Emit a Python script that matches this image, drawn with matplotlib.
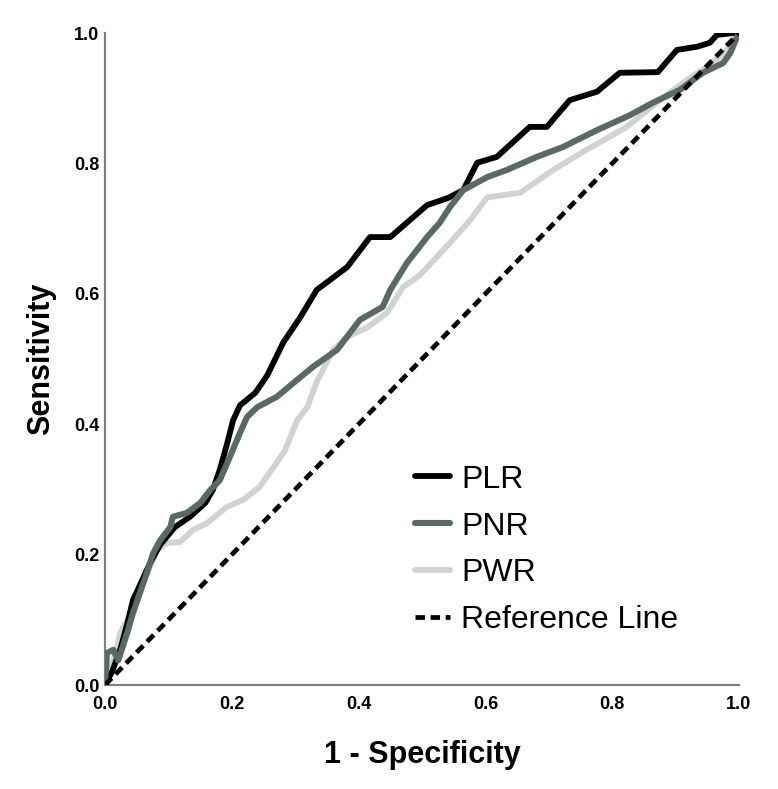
import matplotlib
matplotlib.use("Agg")
import matplotlib.pyplot as plt

# ---- data ----
plr_x = [0.0, 0.011, 0.024, 0.036, 0.044, 0.055, 0.071, 0.087, 0.110, 0.134, 0.158, 0.170,
         0.181, 0.192, 0.202, 0.213, 0.237, 0.256, 0.281, 0.308, 0.334, 0.382, 0.418, 0.450,
         0.508, 0.541, 0.565, 0.587, 0.618, 0.670, 0.697, 0.733, 0.776, 0.812, 0.872, 0.902,
         0.934, 0.954, 0.965, 0.991, 1.0]
plr_y = [0.0, 0.020, 0.054, 0.097, 0.130, 0.153, 0.187, 0.215, 0.242, 0.258, 0.279, 0.299,
         0.330, 0.368, 0.406, 0.429, 0.448, 0.475, 0.525, 0.564, 0.606, 0.641, 0.687, 0.687,
         0.736, 0.747, 0.759, 0.801, 0.810, 0.856, 0.856, 0.897, 0.910, 0.939, 0.940, 0.974,
         0.979, 0.985, 0.997, 1.0, 1.0]

pnr_x = [0.0, 0.002, 0.003, 0.013, 0.021, 0.035, 0.044, 0.055, 0.066, 0.076, 0.087, 0.103,
         0.107, 0.129, 0.150, 0.166, 0.181, 0.197, 0.213, 0.224, 0.240, 0.271, 0.303, 0.328,
         0.366, 0.402, 0.438, 0.450, 0.476, 0.508, 0.528, 0.544, 0.565, 0.603, 0.634, 0.681,
         0.722, 0.776, 0.828, 0.864, 0.907, 0.943, 0.975, 0.986, 0.997, 1.0]
pnr_y = [0.0, 0.031, 0.049, 0.054, 0.038, 0.080, 0.110, 0.141, 0.172, 0.202, 0.222, 0.242,
         0.258, 0.264, 0.279, 0.299, 0.314, 0.350, 0.387, 0.411, 0.426, 0.442, 0.468, 0.488,
         0.514, 0.560, 0.580, 0.606, 0.647, 0.687, 0.709, 0.733, 0.759, 0.779, 0.790, 0.810,
         0.825, 0.851, 0.874, 0.893, 0.913, 0.939, 0.954, 0.969, 0.994, 1.0]

pwr_x = [0.0, 0.005, 0.011, 0.019, 0.024, 0.035, 0.043, 0.050, 0.060, 0.071, 0.082, 0.098,
         0.118, 0.139, 0.161, 0.192, 0.218, 0.244, 0.268, 0.284, 0.303, 0.319, 0.334, 0.360,
         0.382, 0.413, 0.445, 0.470, 0.497, 0.544, 0.576, 0.603, 0.655, 0.707, 0.760, 0.823,
         0.875, 0.918, 0.950, 0.981, 1.0]
pwr_y = [0.0, 0.008, 0.031, 0.058, 0.080, 0.100, 0.120, 0.141, 0.156, 0.181, 0.207, 0.218,
         0.219, 0.238, 0.248, 0.273, 0.284, 0.304, 0.337, 0.360, 0.406, 0.426, 0.465, 0.514,
         0.534, 0.548, 0.571, 0.610, 0.629, 0.678, 0.713, 0.748, 0.755, 0.790, 0.821, 0.856,
         0.897, 0.928, 0.948, 0.974, 1.0]

ref_x = [0.0, 1.0]
ref_y = [0.0, 1.0]

series_labels = ["PLR", "PNR", "PWR", "Reference Line"]
tick_values = [0.0, 0.2, 0.4, 0.6, 0.8, 1.0]
tick_labels = ["0.0", "0.2", "0.4", "0.6", "0.8", "1.0"]

plt.rcParams["font.family"] = ["Liberation Sans", "DejaVu Sans"]

fig = plt.figure(figsize=(7.78, 7.89), dpi=100)
ax = fig.add_axes([105 / 778, 1 - 685 / 789, 634 / 778, 652 / 789])

h_pwr, = ax.plot(pwr_x, pwr_y, color="#d2d2d2", lw=4.2, solid_joinstyle="round", zorder=2)
h_plr, = ax.plot(plr_x, plr_y, color="#000000", lw=4.2, solid_joinstyle="round", zorder=3)
h_pnr, = ax.plot(pnr_x, pnr_y, color="#5b6963", lw=4.4, solid_joinstyle="round", zorder=4)
h_ref, = ax.plot(ref_x, ref_y, color="#000000", lw=3.4, dashes=(2.0, 1.2), zorder=5)

ax.set_xlim(0, 1)
ax.set_ylim(0, 1)
for s in ["top", "right"]:
    ax.spines[s].set_visible(False)
for s in ["left", "bottom"]:
    ax.spines[s].set_color("#808080")
    ax.spines[s].set_linewidth(1.6)

ax.set_xticks(tick_values)
ax.set_xticklabels(tick_labels, fontsize=13, fontweight="bold")
ax.set_yticks(tick_values)
ax.set_yticklabels(tick_labels, fontsize=13, fontweight="bold")
ax.tick_params(axis="both", length=0)
ax.tick_params(axis="x", pad=8)
ax.tick_params(axis="y", pad=4)

ax.set_xlabel("1 - Specificity", fontsize=22, fontweight="bold", labelpad=19)
ax.set_ylabel("Sensitivity", fontsize=22, fontweight="bold", labelpad=13)

leg = ax.legend([h_plr, h_pnr, h_pwr, h_ref], series_labels, loc="upper left",
                bbox_to_anchor=(0.489, 0.338), frameon=False, fontsize=23,
                handlelength=1.1, handletextpad=0.35, labelspacing=0.53,
                borderpad=0, borderaxespad=0)
for line in leg.get_lines():
    line.set_solid_capstyle("round")

fig.savefig("out.png", dpi=100)
